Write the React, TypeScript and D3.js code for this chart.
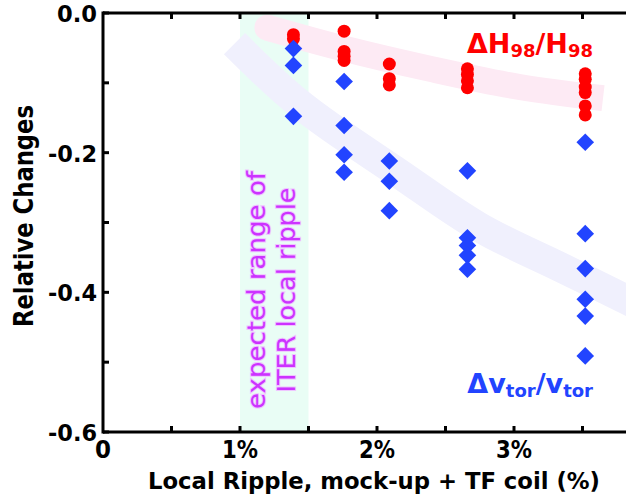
import React from "react";
import * as d3 from "d3";

const W = 626;
const H = 499;

const xTickLabels = ["0", "1%", "2%", "3%"];
const xTickValues = [0, 1, 2, 3];
const xMinorTicks = [0.5, 1, 1.5, 2, 2.5, 3, 3.5];
const yTickValues = [0, -0.2, -0.4, -0.6];
const yTickLabels = ["0.0", "-0.2", "-0.4", "-0.6"];
const yMinorTicks = [0, -0.1, -0.2, -0.3, -0.4, -0.5, -0.6];

// Red circles: ΔH98/H98
const hX = [1.39, 1.39, 1.76, 1.76, 1.76, 1.76, 2.09, 2.09, 2.09, 2.66, 2.66, 2.66, 2.66, 3.52, 3.52, 3.52, 3.52, 3.52, 3.52];
const hY = [-0.031, -0.037, -0.026, -0.055, -0.062, -0.068, -0.073, -0.094, -0.103, -0.080, -0.088, -0.097, -0.107, -0.087, -0.095, -0.106, -0.114, -0.133, -0.146];

// Blue diamonds: Δv_tor/v_tor
const vX = [1.39, 1.39, 1.39, 1.76, 1.76, 1.76, 1.76, 2.09, 2.09, 2.09, 2.66, 2.66, 2.66, 2.66, 2.66, 3.52, 3.52, 3.52, 3.52, 3.52, 3.52];
const vY = [-0.051, -0.075, -0.148, -0.098, -0.161, -0.203, -0.228, -0.212, -0.241, -0.283, -0.226, -0.322, -0.333, -0.347, -0.367, -0.185, -0.316, -0.366, -0.410, -0.434, -0.491];

// Guide bands (trend curves)
const pinkBandX = [1.2, 1.76, 2.39, 3.04, 3.65];
const pinkBandY = [-0.021, -0.051, -0.080, -0.106, -0.122];
const blueBandX = [0.96, 1.44, 2.17, 2.75, 3.34, 3.9];
const blueBandY = [-0.044, -0.131, -0.231, -0.307, -0.364, -0.418];

const iterRange = [1.0, 1.5];

export default function App() {
  const left = 103, top = 13, bottom = 432;
  const x = d3.scaleLinear().domain([0, 3.9]).range([left, left + 3.9 * 137]);
  const y = d3.scaleLinear().domain([0, -0.6]).range([top, bottom]);
  const line = d3.line<[number, number]>().x((d) => x(d[0])).y((d) => y(d[1])).curve(d3.curveCatmullRom);
  const pinkPath = line(pinkBandX.map((v, i) => [v, pinkBandY[i]] as [number, number])) || "";
  const bluePath = line(blueBandX.map((v, i) => [v, blueBandY[i]] as [number, number])) || "";
  const font = "'DejaVu Sans', sans-serif";
  const diamond = d3.symbol().type(d3.symbolSquare).size(155)();
  const purple = "#cc33ff";
  const tx = x(1.25);
  const ty = 290;

  return (
    <svg width={W} height={H} style={{ position: "absolute", left: 0, top: 0, background: "#fff" }} fontFamily={font}>
      <rect x={x(iterRange[0])} y={top} width={x(iterRange[1]) - x(iterRange[0])} height={bottom - top} fill="#e9fdf5" />
      <path d={pinkPath} fill="none" stroke="#fdeaf4" strokeWidth={26} strokeLinecap="butt" />
      <circle cx={x(pinkBandX[0])} cy={y(pinkBandY[0])} r={13} fill="#fdeaf4" />
      <path d={bluePath} fill="none" stroke="#f0f0fd" strokeWidth={30} strokeLinecap="butt" />
      <g transform={`translate(${tx},${ty}) rotate(-90)`}>
        <text x={0} y={-9} textAnchor="middle" fontSize={25} fill={purple} stroke="#efc6ff" strokeWidth={2} paintOrder="stroke" textLength={238} lengthAdjust="spacingAndGlyphs">expected range of</text>
        <text x={0} y={21} textAnchor="middle" fontSize={25} fill={purple} stroke="#efc6ff" strokeWidth={2} paintOrder="stroke" textLength={205} lengthAdjust="spacingAndGlyphs">ITER local ripple</text>
      </g>
      {hX.map((v, i) => (
        <circle key={"h" + i} cx={x(v)} cy={y(hY[i])} r={6.5} fill="#ff0000" />
      ))}
      {vX.map((v, i) => (
        <path key={"v" + i} d={diamond} transform={`translate(${x(v)},${y(vY[i])}) rotate(45)`} fill="#2244ff" />
      ))}
      {/* axes */}
      <line x1={left} x2={W} y1={top} y2={top} stroke="#000" strokeWidth={3} />
      <line x1={left} x2={W} y1={bottom} y2={bottom} stroke="#000" strokeWidth={3} />
      <line x1={left} x2={left} y1={top - 1.5} y2={bottom + 1.5} stroke="#000" strokeWidth={3} />
      {xMinorTicks.map((t) => (
        <g key={"xt" + t}>
          <line x1={x(t)} x2={x(t)} y1={bottom} y2={bottom - 6} stroke="#000" strokeWidth={3} />
          <line x1={x(t)} x2={x(t)} y1={top} y2={top + 6} stroke="#000" strokeWidth={3} />
        </g>
      ))}
      {yMinorTicks.map((t) => (
        <line key={"yt" + t} x1={left} x2={left + 6} y1={y(t)} y2={y(t)} stroke="#000" strokeWidth={3} />
      ))}
      {xTickValues.map((t, i) => (
        <text key={"xl" + t} x={x(t)} y={bottom + 26} textAnchor="middle" fontSize={25} fontWeight="bold"
          textLength={i === 0 ? 16 : 36} lengthAdjust="spacingAndGlyphs">{xTickLabels[i]}</text>
      ))}
      {yTickValues.map((t, i) => (
        <text key={"yl" + t} x={97} y={y(t) + 9} textAnchor="end" fontSize={23} fontWeight="bold"
          textLength={i === 0 ? 40 : 49} lengthAdjust="spacingAndGlyphs">{yTickLabels[i]}</text>
      ))}
      <text x={374} y={489} textAnchor="middle" fontSize={23} fontWeight="bold" textLength={452} lengthAdjust="spacingAndGlyphs">Local Ripple, mock-up + TF coil (%)</text>
      <text transform={`translate(33,216) rotate(-90)`} textAnchor="middle" fontSize={26} fontWeight="bold" textLength={222} lengthAdjust="spacingAndGlyphs">Relative Changes</text>
      <text x={593} y={53} textAnchor="end" fontSize={27} fontWeight="bold" fill="#ff0000">
        ΔH<tspan fontSize={18} dy={4}>98</tspan><tspan dy={-4}>/H</tspan><tspan fontSize={18} dy={4}>98</tspan>
      </text>
      <text x={593} y={393} textAnchor="end" fontSize={27} fontWeight="bold" fill="#2244ff">
        Δv<tspan fontSize={18} dy={4}>tor</tspan><tspan dy={-4}>/v</tspan><tspan fontSize={18} dy={4}>tor</tspan>
      </text>
    </svg>
  );
}
